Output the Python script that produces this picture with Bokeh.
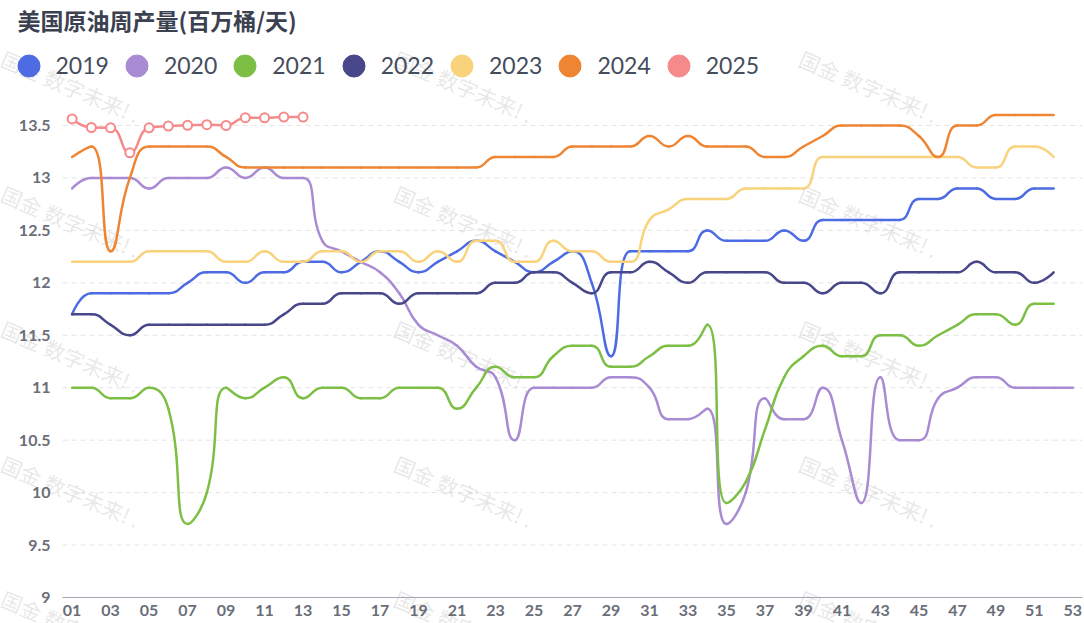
import math
from bokeh.plotting import figure
from bokeh.models import (Range1d, FixedTicker, NumeralTickFormatter, Legend,
                          LegendItem, Label, ColumnDataSource)
from bokeh.embed import file_html
from bokeh.resources import INLINE

# ---------------- data ----------------
title_text = "美国原油周产量(百万桶/天)"
watermark_text = "国金  数字未来!   ."
years = ["2019", "2020", "2021", "2022", "2023", "2024", "2025"]
colors = ["#4d6ce3", "#a98bd3", "#7dbf45", "#48478a", "#f8d37c", "#ee8533", "#f68a8a"]

y2019 = [11.7, 11.9, 11.9, 11.9, 11.9, 11.9, 12.0, 12.1, 12.1, 12.0, 12.1, 12.1, 12.2,
         12.2, 12.1, 12.2, 12.3, 12.2, 12.1, 12.2, 12.3, 12.4, 12.3, 12.2, 12.1, 12.2,
         12.3, 12.0, 11.3, 12.3, 12.3, 12.3, 12.3, 12.5, 12.4, 12.4, 12.4, 12.5, 12.4,
         12.6, 12.6, 12.6, 12.6, 12.6, 12.8, 12.8, 12.9, 12.9, 12.8, 12.8, 12.9, 12.9]
y2020 = [12.9, 13.0, 13.0, 13.0, 12.9, 13.0, 13.0, 13.0, 13.1, 13.0, 13.1, 13.0, 13.0,
         12.4, 12.3, 12.2, 12.1, 11.9, 11.6, 11.5, 11.4, 11.2, 11.1, 10.5, 11.0, 11.0,
         11.0, 11.0, 11.1, 11.1, 11.0, 10.7, 10.7, 10.8, 9.7, 10.0, 10.9, 10.7, 10.7,
         11.0, 10.5, 9.9, 11.1, 10.5, 10.5, 10.9, 11.0, 11.1, 11.1, 11.0, 11.0, 11.0, 11.0]
y2021 = [11.0, 11.0, 10.9, 10.9, 11.0, 10.8, 9.7, 10.0, 11.0, 10.9, 11.0, 11.1, 10.9,
         11.0, 11.0, 10.9, 10.9, 11.0, 11.0, 11.0, 10.8, 11.0, 11.2, 11.1, 11.1, 11.3,
         11.4, 11.4, 11.2, 11.2, 11.3, 11.4, 11.4, 11.6, 9.9, 10.1, 10.6, 11.1, 11.3,
         11.4, 11.3, 11.3, 11.5, 11.5, 11.4, 11.5, 11.6, 11.7, 11.7, 11.6, 11.8, 11.8]
y2022 = [11.7, 11.7, 11.6, 11.5, 11.6, 11.6, 11.6, 11.6, 11.6, 11.6, 11.6, 11.7, 11.8,
         11.8, 11.9, 11.9, 11.9, 11.8, 11.9, 11.9, 11.9, 11.9, 12.0, 12.0, 12.1, 12.1,
         12.0, 11.9, 12.1, 12.1, 12.2, 12.1, 12.0, 12.1, 12.1, 12.1, 12.1, 12.0, 12.0,
         11.9, 12.0, 12.0, 11.9, 12.1, 12.1, 12.1, 12.1, 12.2, 12.1, 12.1, 12.0, 12.1]
y2023 = [12.2, 12.2, 12.2, 12.2, 12.3, 12.3, 12.3, 12.3, 12.2, 12.2, 12.3, 12.2, 12.2,
         12.3, 12.3, 12.2, 12.3, 12.3, 12.2, 12.3, 12.2, 12.4, 12.4, 12.2, 12.2, 12.4,
         12.3, 12.3, 12.2, 12.2, 12.6, 12.7, 12.8, 12.8, 12.8, 12.9, 12.9, 12.9, 12.9,
         13.2, 13.2, 13.2, 13.2, 13.2, 13.2, 13.2, 13.2, 13.1, 13.1, 13.3, 13.3, 13.2]
y2024 = [13.2, 13.3, 12.3, 13.0, 13.3, 13.3, 13.3, 13.3, 13.2, 13.1, 13.1, 13.1, 13.1,
         13.1, 13.1, 13.1, 13.1, 13.1, 13.1, 13.1, 13.1, 13.1, 13.2, 13.2, 13.2, 13.2,
         13.3, 13.3, 13.3, 13.3, 13.4, 13.3, 13.4, 13.3, 13.3, 13.3, 13.2, 13.2, 13.3,
         13.4, 13.5, 13.5, 13.5, 13.5, 13.4, 13.2, 13.5, 13.5, 13.6, 13.6, 13.6, 13.6]
y2025 = [13.563, 13.481, 13.478, 13.240, 13.478, 13.494, 13.502, 13.508, 13.500,
         13.575, 13.573, 13.580, 13.580]
series = [y2019, y2020, y2021, y2022, y2023, y2024, y2025]

week_ticks = list(range(1, 54, 2))
week_labels = {w: "%02d" % w for w in week_ticks}
y_ticks = [9, 9.5, 10, 10.5, 11, 11.5, 12, 12.5, 13, 13.5]

# ---------------- layout ----------------
W, H = 1084, 623
AXIS_LEFT_PX = 62          # page x where the category axis begins
AXIS_BOTTOM_PX = 597       # page y of the value axis minimum
BR = 2
FW, FH = W - BR, H
X_LO, X_HI = 0.5, 53.5     # category band edges
kx = (FW - AXIS_LEFT_PX) / (X_HI - X_LO)
X0 = X_LO - AXIS_LEFT_PX / kx
Y_MIN = 9.0
ky = 104.89
Y0 = Y_MIN - (H - AXIS_BOTTOM_PX) / ky
Y1 = Y0 + FH / ky

p = figure(frame_width=FW, frame_height=FH, min_border_left=0, min_border_right=BR,
           min_border_top=0, min_border_bottom=0, output_backend="svg",
           toolbar_location=None, x_range=Range1d(X0, X_HI), y_range=Range1d(Y0, Y1))
p.outline_line_color = None
p.grid.visible = False

# dashed horizontal grid lines across the category area
p.segment(x0=[X_LO] * len(y_ticks), x1=[X_HI] * len(y_ticks), y0=y_ticks, y1=y_ticks,
          line_color="#e4e4e4", line_width=1, line_dash="5 4", level="underlay")

p.xaxis.ticker = FixedTicker(ticks=week_ticks)
p.xaxis.major_label_overrides = week_labels
p.xaxis.bounds = (X_LO, X_HI)
p.xaxis.fixed_location = Y_MIN
p.xaxis.axis_line_color = "#a3a7b3"
p.xaxis.major_label_standoff = 7
p.yaxis.ticker = FixedTicker(ticks=y_ticks)
p.yaxis.formatter = NumeralTickFormatter(format="0.[0]")
p.yaxis.fixed_location = X_LO
p.yaxis.axis_line_color = None
p.yaxis.major_label_standoff = 12
for ax in (p.xaxis, p.yaxis):
    ax.major_tick_line_color = None
    ax.minor_tick_line_color = None
    ax.major_tick_out = 0
    ax.major_tick_in = 0
    ax.minor_tick_out = 0
    ax.major_label_text_font = "Lato"
    ax.major_label_text_font_size = "16px"
    ax.major_label_text_font_style = "bold"
    ax.major_label_text_color = "#6a6e78"

# faint watermarks
for cx in (2, 395, 800):
    for cy in (45, 180, 315, 450, 585):
        p.add_layout(Label(x=cx, y=FH - (cy + 12), x_units="screen", y_units="screen",
                           text=watermark_text, angle=-0.40,
                           text_font="Noto Sans CJK SC", text_font_size="21px",
                           text_color="#888888", text_alpha=0.2,
                           text_baseline="middle", text_align="left",
                           level="underlay"))

# title
p.add_layout(Label(x=17, y=FH - 19, x_units="screen", y_units="screen",
                   text=title_text, text_font="Noto Sans CJK SC",
                   text_font_size="23px", text_font_style="bold",
                   text_color="#3b4150", text_baseline="middle", text_align="left"))


# echarts-like smoothing -> bezier segments (computed in pixel space)
def bezier_segments(xs, ys, smooth=0.5):
    px = [x * kx for x in xs]
    py = [y * ky for y in ys]
    n = len(px)
    seg = dict(x0=[], y0=[], x1=[], y1=[], cx0=[], cy0=[], cx1=[], cy1=[])
    cpx0, cpy0 = px[0], py[0]
    for i in range(1, n):
        x, y = px[i], py[i]
        prx, pry = px[i - 1], py[i - 1]
        ncx = ncy = None
        if i == n - 1:
            cpx1, cpy1 = x, y
        else:
            nx, ny = px[i + 1], py[i + 1]
            vx, vy = nx - prx, ny - pry
            lp = math.hypot(x - prx, y - pry)
            ln = math.hypot(nx - x, ny - y)
            r = ln / (ln + lp)
            ncx = x + vx * smooth * r
            ncy = y + vy * smooth * r
            ncx = max(min(ncx, max(nx, x)), min(nx, x))
            ncy = max(min(ncy, max(ny, y)), min(ny, y))
            vx, vy = ncx - x, ncy - y
            cpx1 = x - vx * lp / ln
            cpy1 = y - vy * lp / ln
            cpx1 = max(min(cpx1, max(prx, x)), min(prx, x))
            cpy1 = max(min(cpy1, max(pry, y)), min(pry, y))
            vx, vy = x - cpx1, y - cpy1
            ncx = x + vx * ln / lp
            ncy = y + vy * ln / lp
        seg["x0"].append(prx / kx); seg["y0"].append(pry / ky)
        seg["x1"].append(x / kx); seg["y1"].append(y / ky)
        seg["cx0"].append(cpx0 / kx); seg["cy0"].append(cpy0 / ky)
        seg["cx1"].append(cpx1 / kx); seg["cy1"].append(cpy1 / ky)
        if ncx is not None:
            cpx0, cpy0 = ncx, ncy
    return seg


items = []
for yr, col, ys in zip(years, colors, series):
    xs = list(range(1, len(ys) + 1))
    src = ColumnDataSource(bezier_segments(xs, ys))
    p.bezier(x0="x0", y0="y0", x1="x1", y1="y1", cx0="cx0", cy0="cy0",
             cx1="cx1", cy1="cy1", source=src, line_color=col, line_width=2.5,
             line_cap="round")
    if yr == "2025":
        p.scatter(xs, ys, size=9, marker="circle", fill_color="white",
                  line_color=col, line_width=2)
    dummy = p.scatter(x=[float("nan")], y=[float("nan")], marker="circle",
                      fill_color=col, line_color=col)
    items.append(LegendItem(label=yr, renderers=[dummy]))

GLYPH = 55
legend = Legend(items=items, orientation="horizontal",
                location=(31 - GLYPH / 2 - 3, FH - (65 + GLYPH / 2)),
                glyph_width=GLYPH, glyph_height=GLYPH, label_height=22,
                label_standoff=0, spacing=0, padding=0, margin=0,
                border_line_alpha=0, background_fill_alpha=0,
                label_text_font="Lato", label_text_font_size="23px",
                label_text_color="#454c5c")
p.add_layout(legend)

open("out.html", "w").write(file_html(p, INLINE))
